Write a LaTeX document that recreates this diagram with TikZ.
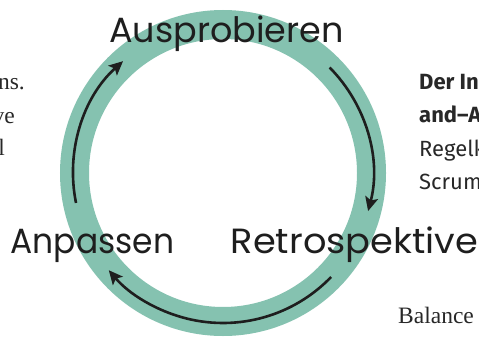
\documentclass[tikz,border=0pt]{standalone}
\usepackage{fontspec}
\setmainfont{Liberation Serif}
\newfontfamily\labelfont{Poppins}
\newfontfamily\sidesans{Fira Sans}
\usetikzlibrary{arrows.meta}
\definecolor{ringcol}{RGB}{133,194,176}
\definecolor{ink}{RGB}{30,30,30}
\definecolor{sidetext}{RGB}{40,40,40}
\tikzset{
  cyclearrow/.style={draw=ink, line width=2.6pt, -{Stealth[length=14pt,width=13pt,inset=3pt]}},
  biglabel/.style={inner sep=0pt, text=ink, font=\labelfont\fontsize{35}{35}\selectfont},
  serifside/.style={inner sep=0pt, text=sidetext, font=\fontsize{23.5}{23.5}\selectfont},
  sansside/.style={inner sep=0pt, text=sidetext, font=\sidesans\fontsize{22}{22}\selectfont},
}
\begin{document}
\begin{tikzpicture}[x=1pt,y=-1pt]
\useasboundingbox (0,0) rectangle (479,340);
\fill[white] (0,0) rectangle (479,340);
\clip (0,0) rectangle (479,340);
\coordinate (c) at (223,173);
\draw[ringcol, line width=29pt] (c) circle[radius=148.5pt];
% arrows
\draw[cyclearrow] ([shift={(191.5:150pt)}]c) arc[start angle=191.5, end angle=131.8, radius=150pt];
\draw[cyclearrow] ([shift={(44.7:150pt)}]c) arc[start angle=44.7, end angle=-14.7, radius=150pt];
\draw[cyclearrow] ([shift={(-43.9:150pt)}]c) arc[start angle=-43.9, end angle=-139.6, radius=150pt];
% labels
\node[biglabel, anchor=base] (aus) at (226.5,42) {Ausprobieren};
\node[biglabel, anchor=base] (anp) at (92.5,253) {\scalebox{0.94}[1]{Anpassen}};
\node[biglabel, anchor=base] (ret) at (354.5,253) {\scalebox{1.05}[1]{Retrospektive}};
% side text fragments
\node[serifside, anchor=base east] (l1) at (25,89) {ns.};
\node[serifside, anchor=base east] (l2) at (15,123) {ve};
\node[serifside, anchor=base east] (l3) at (5,155) {l};
\node[sansside, anchor=base west] (r1) at (419,89) {\bfseries Der In};
\node[sansside, anchor=base west] (r2) at (419,122) {\bfseries and–A};
\node[sansside, anchor=base west] (r3) at (419,156) {Regelk};
\node[sansside, anchor=base west] (r4) at (419,189) {Scrum};
\node[serifside, anchor=base west] (b1) at (398,323) {Balance};
\end{tikzpicture}
\end{document}
